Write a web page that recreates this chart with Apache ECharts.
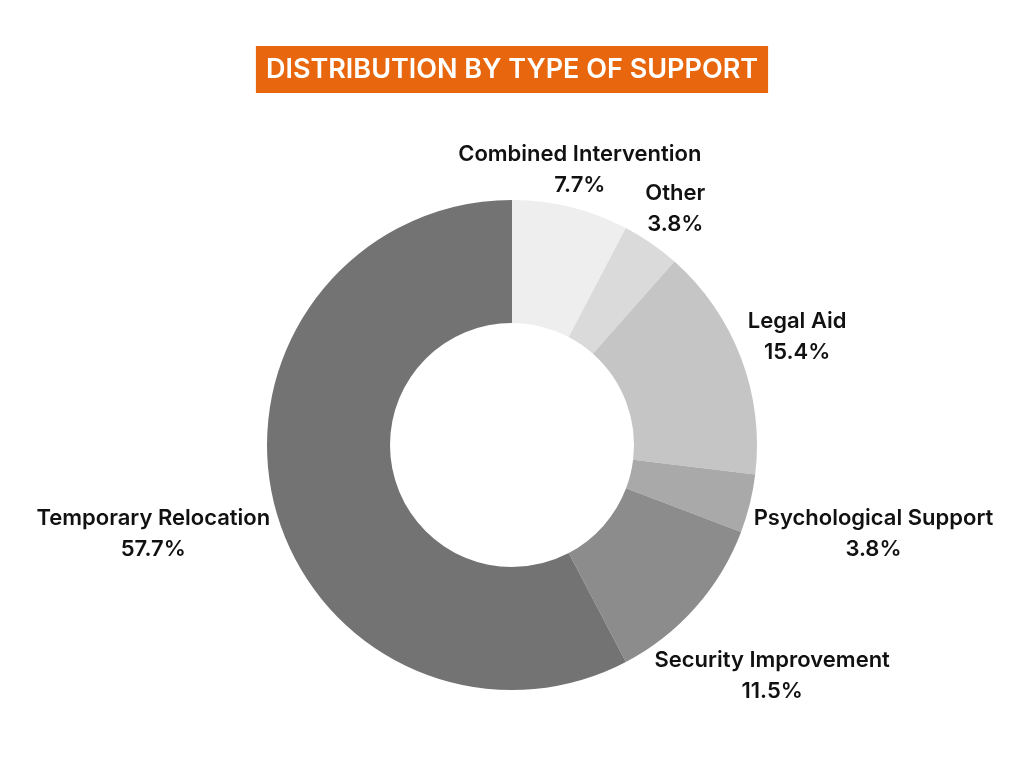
<!DOCTYPE html>
<html>
<head>
<meta charset="utf-8">
<script src="https://cdn.jsdelivr.net/npm/echarts@6/dist/echarts.min.js"></script>
<style>html,body{margin:0;padding:0;background:#fff}#c{width:1024px;height:768px}</style>
</head>
<body>
<div id="c"></div>
<script>
const titleText = 'DISTRIBUTION BY TYPE OF SUPPORT';
const categories = ['Combined Intervention', 'Other', 'Legal Aid', 'Psychological Support', 'Security Improvement', 'Temporary Relocation'];
const values = [2, 1, 4, 1, 3, 15];
const colors = ['#eeeeee', '#dadada', '#c5c5c5', '#a9a9a9', '#8c8c8c', '#737373'];

const CX = 512, CY = 445, R_IN = 122, R_OUT = 245, GAP = 5;
const total = values.reduce((a, b) => a + b, 0);
const midAngles = [];
let acc = 0;
values.forEach(v => { midAngles.push((acc + v / 2) / total * 2 * Math.PI); acc += v; });

function boxDist(cx, cy, a, b) {
  const dx = Math.max(Math.abs(cx) - a, 0), dy = Math.max(Math.abs(cy) - b, 0);
  return Math.sqrt(dx * dx + dy * dy);
}

const chart = echarts.init(document.getElementById('c'));
chart.setOption({
  backgroundColor: '#ffffff',
  animation: false,
  title: {
    text: titleText,
    left: 'center',
    top: 46,
    backgroundColor: '#E8670E',
    padding: [9, 10, 8, 10],
    textStyle: { color: '#ffffff', fontFamily: 'Inter', fontWeight: 600, fontSize: 27, lineHeight: 30 }
  },
  series: [{
    type: 'pie',
    center: [CX, CY],
    radius: [R_IN, R_OUT],
    startAngle: 90,
    clockwise: true,
    data: categories.map((n, i) => ({ name: n, value: values[i], itemStyle: { color: colors[i] } })),
    label: {
      show: true,
      position: 'outside',
      formatter: p => p.name + '\n' + (p.value / total * 100).toFixed(1) + '%',
      color: '#111111',
      fontFamily: 'Inter',
      fontWeight: 600,
      fontSize: 22,
      lineHeight: 31,
      align: 'center',
      overflow: 'none',
      edgeDistance: 0
    },
    labelLine: { show: false },
    emphasis: { disabled: true },
    labelLayout: function (params) {
      const th = midAngles[params.dataIndex];
      const ux = Math.sin(th), uy = -Math.cos(th);
      const a = params.labelRect.width / 2, b = params.labelRect.height / 2 - 6;
      let lo = R_OUT - 100, hi = R_OUT + 500;
      for (let k = 0; k < 60; k++) {
        const m = (lo + hi) / 2;
        if (boxDist(m * ux, m * uy, a, b) < R_OUT + GAP) lo = m; else hi = m;
      }
      return { x: CX + lo * ux, y: CY + lo * uy, align: 'center', verticalAlign: 'middle' };
    }
  }]
});
</script>
</body>
</html>
